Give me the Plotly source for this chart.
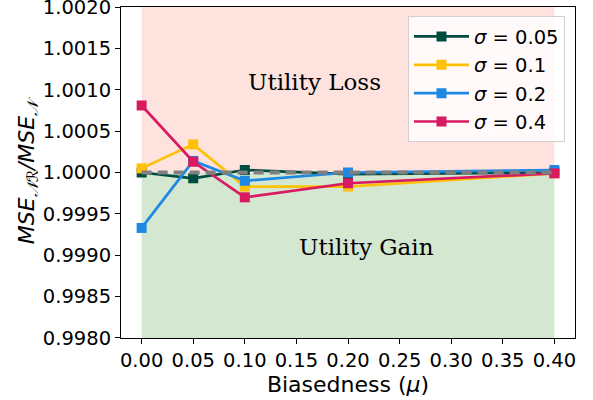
import plotly.graph_objects as go

mu = [0.0, 0.05, 0.10, 0.20, 0.40]
sigma_labels = ["<i>σ</i> = 0.05", "<i>σ</i> = 0.1", "<i>σ</i> = 0.2", "<i>σ</i> = 0.4"]
s005 = [1.00000, 0.99993, 1.00003, 0.99998, 1.00000]
s01 = [1.00005, 1.00034, 0.99983, 0.99983, 0.99999]
s02 = [0.99933, 1.00014, 0.99990, 1.00000, 1.00003]
s04 = [1.00081, 1.00013, 0.99970, 0.99987, 0.99999]
series = [s005, s01, s02, s04]
colors = ["#004D40", "#FFC107", "#1E88E5", "#D81B60"]
x_ticks = [0.0, 0.05, 0.10, 0.15, 0.20, 0.25, 0.30, 0.35, 0.40]
y_ticks = [0.9980, 0.9985, 0.9990, 0.9995, 1.0000, 1.0005, 1.0010, 1.0015, 1.0020]

fig = go.Figure()
fig.add_shape(type="rect", x0=0, x1=0.4, y0=1.0, y1=1.002, fillcolor="#fde2de",
              line_width=0, layer="below")
fig.add_shape(type="rect", x0=0, x1=0.4, y0=0.998, y1=1.0, fillcolor="#d3e7d1",
              line_width=0, layer="below")

for name, ys, c in zip(sigma_labels, series, colors):
    fig.add_trace(go.Scatter(x=mu, y=ys, name=name, mode="lines+markers",
                             line=dict(color=c, width=2.7),
                             marker=dict(symbol="square", size=10, color=c)))

fig.add_trace(go.Scatter(x=[0, 0.4], y=[1.0, 1.0], mode="lines", showlegend=False,
                         line=dict(color="gray", width=4, dash="10px,6px")))

fig.add_annotation(x=0.168, y=1.00109, text="Utility Loss", showarrow=False,
                   font=dict(family="DejaVu Serif", size=23, color="black"))
fig.add_annotation(x=0.218, y=0.99910, text="Utility Gain", showarrow=False,
                   font=dict(family="DejaVu Serif", size=23, color="black"))

fig.update_layout(
    width=593, height=400,
    margin=dict(l=121, r=18, t=7, b=62),
    paper_bgcolor="white", plot_bgcolor="white",
    font=dict(family="DejaVu Sans", size=19, color="black"),
    legend=dict(x=0.978, y=0.972, xanchor="right", yanchor="top",
                bgcolor="rgba(255,255,255,0.8)", bordercolor="#d0d0d0", borderwidth=1,
                font=dict(size=19.5), itemwidth=55),
    xaxis=dict(range=[-0.02, 0.42], tickvals=x_ticks, ticktext=[f"{v:.2f}" for v in x_ticks],
               showgrid=False, zeroline=False, showline=True, linecolor="black", linewidth=1,
               mirror=True, ticks="outside", ticklen=5, tickcolor="black", automargin=False,
               tickfont=dict(size=19.5), ticklabeloverflow="allow",
               title=dict(text="Biasedness (<i>μ</i>)", font=dict(size=22), standoff=2)),
    yaxis=dict(range=[0.9979999, 1.0020001], tickvals=y_ticks,
               ticktext=[f"{v:.4f}" for v in y_ticks],
               showgrid=False, zeroline=False, showline=True, linecolor="black", linewidth=1,
               mirror=True, ticks="outside", ticklen=5, tickcolor="black", automargin=False,
               tickfont=dict(size=19.5), ticklabeloverflow="allow",
               title=dict(text="<i>MSE</i><sub><i>𝒩ℛ</i></sub><i>/MSE</i><sub><i>𝒩</i></sub>",
                          font=dict(size=22), standoff=2)),
)

fig.write_html("out.html", config={"displayModeBar": False},
               post_script="document.body.style.margin='0';")
